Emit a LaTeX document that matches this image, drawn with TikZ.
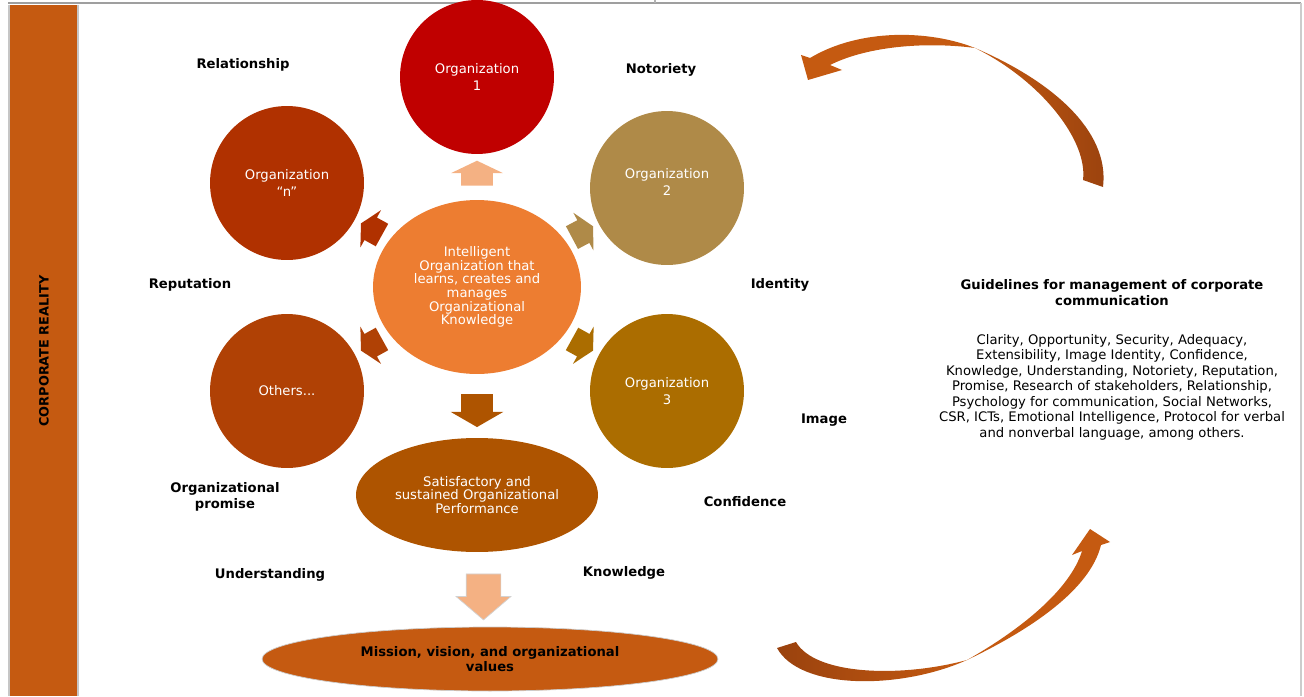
\documentclass[tikz,border=0pt]{standalone}
\usepackage{fontspec}
\setmainfont{DejaVu Sans}
\usepackage{tikz}
\usetikzlibrary{shapes.geometric,shapes.arrows,positioning,calc}
\definecolor{barorange}{HTML}{C55A11}
\definecolor{orgred}{HTML}{C00000}
\definecolor{orgtan}{HTML}{AF8A48}
\definecolor{orggold}{HTML}{AB6D00}
\definecolor{orgrust}{HTML}{B03100}
\definecolor{orgbrown}{HTML}{B04105}
\definecolor{ctrorange}{HTML}{ED7D31}
\definecolor{satbrown}{HTML}{AE5400}
\definecolor{lightarr}{HTML}{F4B183}
\definecolor{arrowdk}{HTML}{9A420E}

\begin{document}
\begin{tikzpicture}[x=0.02cm, y=-0.02cm,
                    orgcirc/.style={circle, minimum size=3.08cm, inner sep=0pt, text=white, align=center,
                                    font=\fontsize{7.5}{10}\selectfont},
                    orgellipse/.style={ellipse, inner sep=0pt, align=center, font=\fontsize{7.5}{7.8}\selectfont},
                    lbl/.style={align=center, font=\bfseries\fontsize{7.5}{9}\selectfont},
                    bodytext/.style={align=center, font=\fontsize{7.5}{8.8}\selectfont},
                    blockarr/.style={single arrow, draw=none, inner xsep=0pt},
                    uparr/.style={blockarr, inner ysep=0.31cm, single arrow head extend=0.2cm,
                                  single arrow tip angle=129, minimum height=0.5cm},
                    midarr/.style={blockarr, inner ysep=0.31cm, single arrow head extend=0.21cm,
                                   single arrow tip angle=120, minimum height=0.66cm},
                    lowarr/.style={blockarr, inner ysep=0.34cm, single arrow head extend=0.2cm,
                                   single arrow tip angle=99, minimum height=0.92cm},
                    diagarr/.style={blockarr, inner ysep=0.25cm, single arrow head extend=0.17cm,
                                    single arrow tip angle=125, minimum height=0.48cm},
                   ]

\useasboundingbox (0,0) rectangle (1304,696);

% frame and side bar
\draw[gray!75, line width=1.4pt] (8,3) -- (1301,3);
\draw[gray!60, line width=0.8pt] (655,0) -- (655,3);
\draw[gray!40, line width=0.8pt] (1301,3) -- (1301,696);
\fill[barorange] (10,5) rectangle (78,696);
\draw[gray!45, line width=0.6pt] (9,5) -- (9,696) (78,5) -- (78,696);
\node[lbl, rotate=90, font=\bfseries\fontsize{7.3}{9}\selectfont] (reality) at (44,351) {CORPORATE REALITY};

% circles
\node[orgellipse, fill=ctrorange, text=white, minimum width=4.16cm, minimum height=3.48cm] (ctr) at (477,287)
     {Intelligent\\Organization that\\learns, creates and\\manages\\Organizational\\Knowledge};
\node[orgcirc, fill=orgred] (org1) at (477,77) {Organization\\1};
\node[orgcirc, fill=orgtan] (org2) at (667,188) {Organization\\2\\[-0.11cm]};
\node[orgcirc, fill=orggold] (org3) at (667,391) {Organization\\3};
\node[orgcirc, fill=orgrust] (orgn) at (287,183) {Organization\\``n''};
\node[orgcirc, fill=orgbrown] (others) at (287,391) {Others...};
\node[orgellipse, fill=satbrown, text=white, minimum width=4.84cm, minimum height=2.28cm] (sat) at (477,495)
     {Satisfactory and\\sustained Organizational\\Performance};
\node[orgellipse, fill=barorange, draw=gray!40, minimum width=9.12cm, minimum height=1.28cm,
      font=\bfseries\fontsize{7.5}{9}\selectfont] (mission) at (490,659)
     {Mission, vision, and organizational\\values};

% block arrows
\node[uparr, fill=lightarr, rotate=90] (a1) at ($(ctr.north)!.5!(org1.south)$) {};
\node[diagarr, fill=orgtan, rotate=28] (a2) at ($(ctr)!.54!(org2)$) {};
\node[diagarr, fill=orggold, rotate=-29] (a3) at ($(ctr)!.54!(org3)$) {};
\node[diagarr, fill=orgrust, rotate=151] (an) at ($(ctr)!.54!(orgn)$) {};
\node[diagarr, fill=orgbrown, rotate=-151] (ao) at ($(ctr)!.54!(others)$) {};
\node[midarr, fill=satbrown, rotate=-90] (asat) at ($(ctr.south)!.5!(sat.north)$) {};
\node[lowarr, fill=lightarr, draw=gray!35, rotate=-90] (amis) at ($(sat.south)!.5!(mission.north)$) {};

% labels
\node[lbl] (relationship) at (243,65) {Relationship};
\node[lbl] (notoriety) at (661,70) {Notoriety};
\node[lbl] (identity) at (780,285) {Identity};
\node[lbl] (reputation) at (190,285) {Reputation};
\node[lbl] (image) at (824,420) {Image};
\node[lbl] (confidence) at (745,502) {Confidence};
\node[lbl] (promise) at (225,497) {Organizational\\promise};
\node[lbl] (understanding) at (270,575) {Understanding};
\node[lbl] (knowledge) at (624,573) {Knowledge};

\node[lbl, font=\bfseries\fontsize{7.5}{9.1}\selectfont] (guidetitle) at (1112,293)
     {Guidelines for management of corporate\\communication};
\node[bodytext] (guidebody) at (1112,387)
     {Clarity, Opportunity, Security, Adequacy,\\Extensibility, Image Identity, Confidence,\\
      Knowledge, Understanding, Notoriety, Reputation,\\Promise, Research of stakeholders, Relationship,\\
      Psychology for communication, Social Networks,\\CSR, ICTs, Emotional Intelligence, Protocol for verbal\\
      and nonverbal language, among others.};

% curved arrows
\shade[left color=barorange, right color=arrowdk]
  (1083,180) .. controls (1088,140) and (1040,80) .. (975,48)
  .. controls (1050,80) and (1110,130) .. (1103,187) -- cycle;
\fill[barorange]
  (975,48) .. controls (930,30) and (860,28) .. (810,58)
  -- (801,55) -- (808,80) -- (842,70) -- (830,65)
  .. controls (870,45) and (930,42) .. (975,48) -- cycle;

\shade[left color=arrowdk, right color=barorange]
  (777,648) .. controls (800,690) and (900,690) .. (967,660)
  .. controls (900,678) and (815,675) .. (796,642) -- cycle;
\fill[barorange]
  (967,660) .. controls (1030,630) and (1090,590) .. (1101,545)
  -- (1110,542) -- (1090,529) -- (1072,555) -- (1082,551)
  .. controls (1070,590) and (1020,630) .. (967,660) -- cycle;

\end{tikzpicture}
\end{document}
